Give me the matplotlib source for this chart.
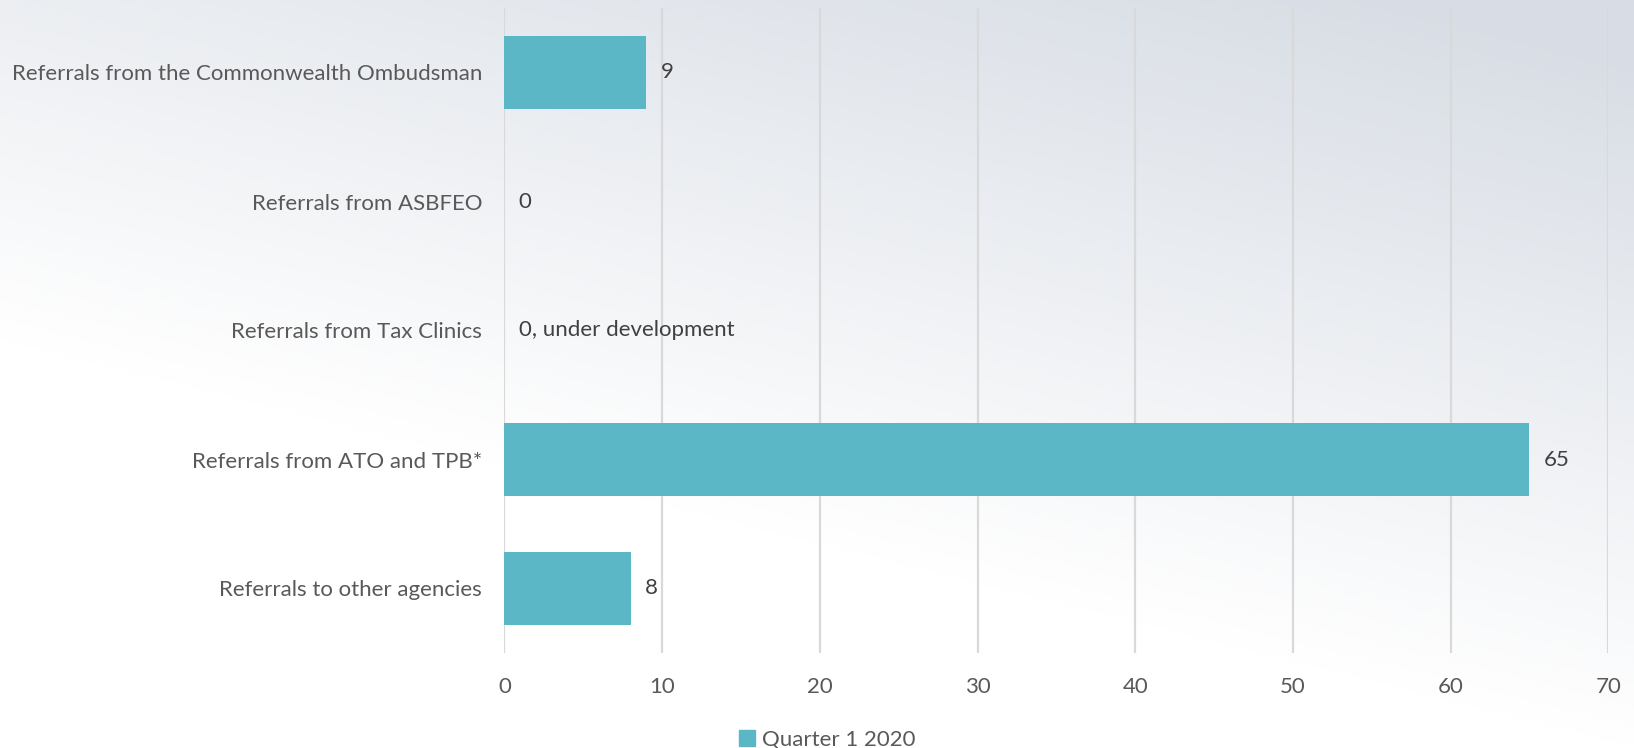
import numpy as np
import matplotlib
matplotlib.use("Agg")
import matplotlib.pyplot as plt
from matplotlib.patches import Patch

# categories listed top to bottom as in the chart
categories = ["Referrals from the Commonwealth Ombudsman",
              "Referrals from ASBFEO",
              "Referrals from Tax Clinics",
              "Referrals from ATO and TPB*",
              "Referrals to other agencies"]
values = [9, 0, 0, 65, 8]
value_labels = ["9", "0", "0, under development", "65", "8"]
series_name = "Quarter 1 2020"

bar_color = "#5BB6C6"
text_color = "#595959"

plt.rcParams['font.family'] = ['Lato', 'DejaVu Sans']

fig = plt.figure(figsize=(16.34, 7.48), dpi=100)

# light bluish-grey background, darker towards the upper right
bg = fig.add_axes([0, 0, 1, 1], zorder=-10)
yy, xx = np.mgrid[0:1:200j, 0:1:400j]
shade = np.clip(0.6 * xx + 1.1 * yy - 0.6, 0, 1)[..., None]
white = np.array([1.0, 1.0, 1.0])
grey = np.array([0.85, 0.87, 0.9])
bg.imshow(white * (1 - shade) + grey * shade, aspect="auto",
          extent=[0, 1, 0, 1], origin="lower")
bg.axis("off")

ax = fig.add_axes([504.4 / 1634, 1 - 653 / 748, (1608.3 - 504.4) / 1634, 645 / 748])
ax.patch.set_alpha(0)

pos = np.arange(len(categories))
ax.barh(pos, values, height=0.57, color=bar_color, zorder=3)
for p, v, lab in zip(pos, values, value_labels):
    ax.text(v + 0.9, p, lab, va="center", ha="left", fontsize=16, color="#404040")

ax.set_xlim(0, 70)
ax.set_ylim(len(categories) - 0.5, -0.5)
ax.set_xticks(range(0, 71, 10))
ax.set_yticks(pos)
ax.set_yticklabels(categories)
ax.tick_params(axis="both", length=0, labelsize=16, colors=text_color)
ax.tick_params(axis="x", pad=17)
ax.tick_params(axis="y", pad=16)
ax.grid(axis="x", color="#D9D9D9", linewidth=1.6, zorder=0)
for s in ax.spines.values():
    s.set_visible(False)

fig.legend(handles=[Patch(color=bar_color, label=series_name)],
           loc="center", bbox_to_anchor=(827 / 1634, 1 - 740 / 748),
           frameon=False, fontsize=16, labelcolor=text_color,
           handlelength=0.75, handleheight=0.75, handletextpad=0.3)

fig.savefig("out.png", dpi=100)
